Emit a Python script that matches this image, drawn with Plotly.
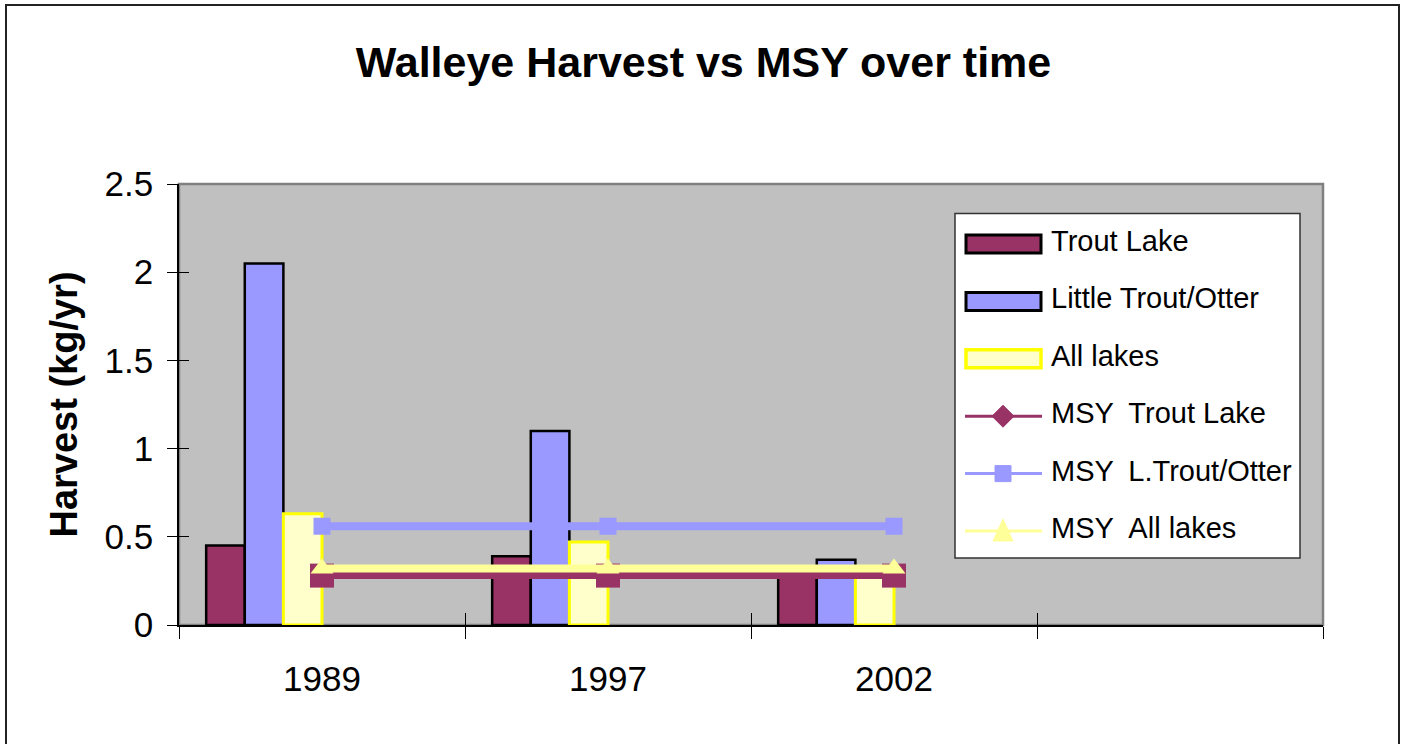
import plotly.graph_objects as go

# ---- data ----
years = ["1989", "1997", "2002"]
slots = ["1989", "1997", "2002", " "]          # category slots on the x axis (4th is empty)
trout_lake = [0.45, 0.39, 0.30]
little_trout = [2.05, 1.10, 0.37]
all_lakes = [0.63, 0.47, 0.30]
msy_trout = [0.28, 0.28, 0.28]
msy_little = [0.56, 0.56, 0.56]
msy_all = [0.32, 0.32, 0.32]
y_ticks = [0, 0.5, 1, 1.5, 2, 2.5]
y_tick_text = ["0", "0.5", "1", "1.5", "2", "2.5"]

bar_names = ["Trout Lake", "Little Trout/Otter", "All lakes"]
line_names = ["MSY\u2002Trout Lake", "MSY\u2002L.Trout/Otter", "MSY\u2002All lakes"]

FONT = "Liberation Sans, Arial, sans-serif"
BAR_W = 0.135

# plot-area geometry (pixels) used for the hand-made legend / frame
L, R, T, B = 179, 1323, 184, 625
W, H = 1407, 744


def px(x):
    return (x - L) / (R - L)


def py(y):
    return (B - y) / (B - T)


bar_styles = [
    dict(color="#993366", line=dict(color="black", width=2.5)),
    dict(color="#9999FF", line=dict(color="black", width=2.5)),
    dict(color="#FFFFCC", line=dict(color="#FFFF00", width=3)),
]
line_colors = ["#993366", "#9999FF", "#FFFF99"]

fig = go.Figure()

bar_values = [trout_lake, little_trout, all_lakes]
offsets = [-0.405, -0.27, -0.135]
for name, vals, off, st in zip(bar_names, bar_values, offsets, bar_styles):
    fig.add_trace(go.Bar(x=years, y=vals, name=name, width=BAR_W, offset=off,
                         marker=st, showlegend=False))

fig.add_trace(go.Scatter(x=years, y=msy_trout, name=line_names[0], mode="lines+markers",
                         line=dict(color=line_colors[0], width=7),
                         marker=dict(symbol="square", size=24, color=line_colors[0]),
                         showlegend=False))
fig.add_trace(go.Scatter(x=years, y=msy_little, name=line_names[1], mode="lines+markers",
                         line=dict(color=line_colors[1], width=8),
                         marker=dict(symbol="square", size=17, color=line_colors[1]),
                         showlegend=False))
fig.add_trace(go.Scatter(x=years, y=msy_all, name=line_names[2], mode="lines+markers",
                         line=dict(color=line_colors[2], width=8),
                         marker=dict(symbol="triangle-up", size=20, color=line_colors[2]),
                         showlegend=False))

# helper trace for the inner half of the crossing tick marks
fig.add_trace(go.Scatter(x=years, y=[None, None, None], xaxis="x2", yaxis="y2",
                         showlegend=False, hoverinfo="skip", mode="lines"))

# ---- hand-made legend (Excel style) ----
shapes = [
    # plot-area frame
    dict(type="rect", xref="paper", yref="paper", x0=0, x1=1, y0=0, y1=1,
         line=dict(color="#808080", width=2.5), layer="below"),
    # chart-area frame
    dict(type="rect", xref="paper", yref="paper",
         x0=px(6), x1=px(1399), y0=py(760), y1=py(5),
         line=dict(color="#222222", width=2), layer="below"),
    # legend box
    dict(type="rect", xref="paper", yref="paper",
         x0=px(955), x1=px(1300), y0=py(558), y1=py(213.5),
         fillcolor="white", line=dict(color="#333333", width=1.5), layer="above"),
]
annotations = []
row_y = [244 + 57.4 * i for i in range(6)]
sx0, sx1, sxm = 966, 1041, 1003

for i, (name, st) in enumerate(zip(bar_names, bar_styles)):
    yc = row_y[i]
    shapes.append(dict(type="rect", xref="paper", yref="paper",
                       x0=px(sx0), x1=px(sx1), y0=py(yc + 9), y1=py(yc - 9),
                       fillcolor=st["color"],
                       line=dict(color=st["line"]["color"], width=st["line"]["width"] + 0.5),
                       layer="above"))

for j, (name, col) in enumerate(zip(line_names, line_colors)):
    yc = row_y[3 + j]
    shapes.append(dict(type="line", xref="paper", yref="paper",
                       x0=px(sx0 - 1), x1=px(sx1 + 1), y0=py(yc), y1=py(yc),
                       line=dict(color=col, width=3), layer="above"))
    if j == 0:      # diamond
        path = (f"M{px(sxm)},{py(yc - 11)} L{px(sxm + 11)},{py(yc)} "
                f"L{px(sxm)},{py(yc + 11)} L{px(sxm - 11)},{py(yc)} Z")
    elif j == 1:    # square
        path = (f"M{px(sxm - 8)},{py(yc - 8)} L{px(sxm + 8)},{py(yc - 8)} "
                f"L{px(sxm + 8)},{py(yc + 8)} L{px(sxm - 8)},{py(yc + 8)} Z")
    else:           # triangle
        path = (f"M{px(sxm)},{py(yc - 12)} L{px(sxm + 10)},{py(yc + 10)} "
                f"L{px(sxm - 10)},{py(yc + 10)} Z")
    shapes.append(dict(type="path", xref="paper", yref="paper", path=path,
                       fillcolor=col, line=dict(color=col, width=1), layer="above"))

for i, name in enumerate(bar_names + line_names):
    annotations.append(dict(text=name, xref="paper", yref="paper",
                            x=px(1049), y=py(row_y[i] - 3), xanchor="left", yanchor="middle",
                            showarrow=False, font=dict(family=FONT, size=29, color="black")))

fig.update_layout(
    width=W, height=H,
    margin=dict(l=L, r=W - R, t=T, b=H - B),
    paper_bgcolor="white",
    plot_bgcolor="#C0C0C0",
    barmode="overlay",
    showlegend=False,
    font=dict(family=FONT, color="black"),
    title=dict(text="<b>Walleye Harvest vs MSY over time</b>",
               font=dict(family=FONT, size=43, color="black"),
               x=0.5, xref="container", xanchor="center",
               y=1 - 62 / H, yref="container", yanchor="middle"),
    xaxis=dict(type="category", categoryorder="array", categoryarray=slots,
               range=[-0.5, 3.5], tickson="boundaries",
               ticks="outside", ticklen=12, tickcolor="black", tickwidth=1,
               showline=True, linecolor="black", linewidth=1.5,
               showgrid=False, zeroline=False,
               tickfont=dict(family=FONT, size=35), ticklabelstandoff=22),
    yaxis=dict(range=[0, 2.5], tickmode="array", tickvals=y_ticks, ticktext=y_tick_text,
               ticks="outside", ticklen=10, tickcolor="black", tickwidth=1,
               showline=True, linecolor="black", linewidth=1.5,
               showgrid=False, zeroline=False,
               tickfont=dict(family=FONT, size=35), ticklabelstandoff=7,
               title=dict(text="<b>Harvest (kg/yr)</b>",
                          font=dict(family=FONT, size=38), standoff=15)),
    xaxis2=dict(overlaying="x", matches="x", anchor="y2",
                type="category", categoryorder="array", categoryarray=slots,
                tickson="boundaries", ticks="inside", ticklen=12, tickcolor="black",
                showticklabels=False, showgrid=False, showline=False, zeroline=False),
    yaxis2=dict(overlaying="y", matches="y", anchor="x2",
                tickmode="array", tickvals=y_ticks,
                ticks="inside", ticklen=10, tickcolor="black",
                showticklabels=False, showgrid=False, showline=False, zeroline=False),
    shapes=shapes,
    annotations=annotations,
)

fig.write_html("out.html", config={"displayModeBar": False},
               post_script="document.body.style.margin='0px';")
